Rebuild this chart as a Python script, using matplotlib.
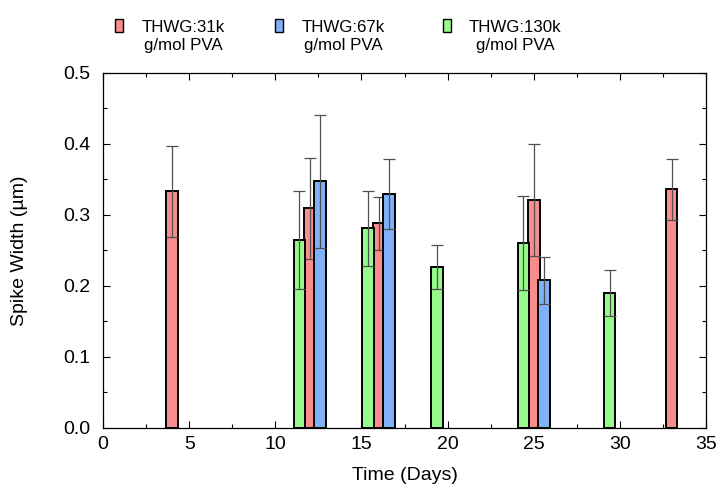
import numpy as np
import matplotlib
matplotlib.use("Agg")
import matplotlib.pyplot as plt
from matplotlib.patches import Rectangle
from matplotlib.ticker import MultipleLocator

plt.rcParams['font.family'] = ['Liberation Sans', 'DejaVu Sans']

# Dados
series_names = ['THWG:31k\ng/mol PVA', 'THWG:67k\ng/mol PVA', 'THWG:130k\ng/mol PVA']
cores = ['#F98C8C', '#80B0F8', '#96FA8C']

dias_31k = [4, 12, 16, 25, 33]
largura_31k = [0.333, 0.309, 0.288, 0.321, 0.336]
erro_31k = [0.064, 0.071, 0.037, 0.079, 0.043]

dias_67k = [12, 16, 25]
largura_67k = [0.347, 0.329, 0.208]
erro_67k = [0.094, 0.049, 0.033]

dias_130k = [12, 16, 20, 25, 30]
largura_130k = [0.264, 0.281, 0.226, 0.260, 0.190]
erro_130k = [0.069, 0.053, 0.031, 0.066, 0.032]

# Deslocamento de cada série dentro do grupo
desloc = [0.0, 0.6, -0.6]
w = 0.68

fig = plt.figure(figsize=(7.2, 4.99), dpi=100)
ax = fig.add_axes([0.1431, 0.1423, 0.9806 - 0.1431, 0.8543 - 0.1423])

dados = [(dias_31k, largura_31k, erro_31k),
         (dias_67k, largura_67k, erro_67k),
         (dias_130k, largura_130k, erro_130k)]

# ordem de desenho: verde, vermelho, azul
for i in [2, 0, 1]:
    d, v, e = dados[i]
    x = np.array(d) + desloc[i]
    ax.bar(x, v, width=w, color=cores[i], edgecolor='black', linewidth=1.4, zorder=2 + i * 0.1)
    ax.errorbar(x, v, yerr=e, fmt='none', ecolor='#505050', elinewidth=0.9,
                capsize=4.5, capthick=0.9, zorder=2.05 + i * 0.1)

ax.set_xlim(0, 35)
ax.set_ylim(0, 0.5)
ax.xaxis.set_major_locator(MultipleLocator(5))
ax.xaxis.set_minor_locator(MultipleLocator(2.5))
ax.yaxis.set_major_locator(MultipleLocator(0.1))
ax.yaxis.set_minor_locator(MultipleLocator(0.05))
ax.yaxis.set_major_formatter(matplotlib.ticker.FormatStrFormatter('%.1f'))

ax.tick_params(which='both', direction='in', top=True, right=True, color='black', width=0.8)
ax.tick_params(which='major', length=5, labelsize=14)
ax.tick_params(which='minor', length=3)
ax.tick_params(axis='x', which='major', pad=6)
ax.tick_params(axis='y', which='major', pad=9)
for s in ax.spines.values():
    s.set_linewidth(0.9)

ax.set_xlabel('Time (Days)', fontsize=14, va='center')
ax.xaxis.set_label_coords(0.5, -0.135)
ax.set_ylabel('Spike Width (µm)', fontsize=14, va='center')
ax.yaxis.set_label_coords(-0.138, 0.5)

# Legenda manual acima do gráfico
handle_x = [115, 275, 443]
texto_x = [183, 343, 515]
for i in range(3):
    r = Rectangle((handle_x[i] / 720, 1 - 32 / 499), 8 / 720, 13 / 499,
                  transform=fig.transFigure, facecolor=cores[i], edgecolor='black', linewidth=1.0)
    fig.patches.append(r)
    fig.text(texto_x[i] / 720, 1 - 19.5 / 499, series_names[i], ha='center', va='top',
             multialignment='center', fontsize=12.2, linespacing=1.33)

fig.savefig('out.png', dpi=100)
